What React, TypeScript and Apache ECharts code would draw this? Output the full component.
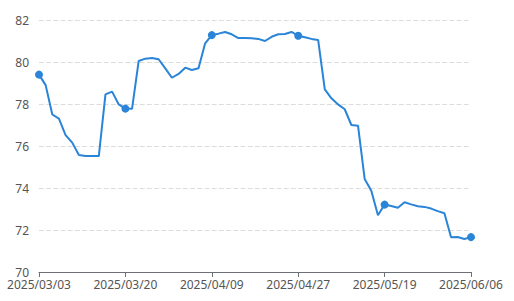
import React, { useEffect, useRef } from "react";
import * as echarts from "echarts";

const dates: string[] = [
  "2025/03/03", "2025/03/04", "2025/03/05", "2025/03/06", "2025/03/07",
  "2025/03/10", "2025/03/11", "2025/03/12", "2025/03/13", "2025/03/14",
  "2025/03/17", "2025/03/18", "2025/03/19", "2025/03/20", "2025/03/21",
  "2025/03/24", "2025/03/25", "2025/03/26", "2025/03/27", "2025/03/28",
  "2025/03/31", "2025/04/01", "2025/04/02", "2025/04/03", "2025/04/07",
  "2025/04/08", "2025/04/09", "2025/04/10", "2025/04/11", "2025/04/14",
  "2025/04/15", "2025/04/16", "2025/04/17", "2025/04/18", "2025/04/21",
  "2025/04/22", "2025/04/23", "2025/04/24", "2025/04/25", "2025/04/27",
  "2025/04/28", "2025/04/29", "2025/04/30", "2025/05/06", "2025/05/07",
  "2025/05/08", "2025/05/09", "2025/05/12", "2025/05/13", "2025/05/14",
  "2025/05/15", "2025/05/16", "2025/05/19", "2025/05/20", "2025/05/21",
  "2025/05/22", "2025/05/23", "2025/05/26", "2025/05/27", "2025/05/28",
  "2025/05/29", "2025/05/30", "2025/06/03", "2025/06/04", "2025/06/05",
  "2025/06/06",
];

const values: number[] = [
  79.4, 78.9, 77.5, 77.3, 76.52, 76.16, 75.57, 75.52, 75.52, 75.52,
  78.46, 78.59, 77.98, 77.78, 77.77, 80.05, 80.16, 80.19, 80.13, 79.7,
  79.25, 79.43, 79.73, 79.62, 79.7, 80.89, 81.28, 81.35, 81.43, 81.32,
  81.14, 81.14, 81.13, 81.1, 81.0, 81.2, 81.32, 81.33, 81.43, 81.25,
  81.18, 81.1, 81.05, 78.7, 78.27, 77.98, 77.75, 77.0, 76.97, 74.43,
  73.87, 72.7, 73.21, 73.14, 73.06, 73.32, 73.22, 73.13, 73.1, 73.02,
  72.9, 72.8, 71.65, 71.67, 71.57, 71.66,
];

const yMin = 70;
const yMax = 82;
const yStep = 2;

export default function App() {
  const ref = useRef<HTMLDivElement>(null);
  useEffect(() => {
    if (!ref.current) return;
    const chart = echarts.init(ref.current, undefined, { renderer: "svg" });
    chart.setOption({
      animation: false,
      textStyle: { fontFamily: "Noto Sans" },
      grid: { left: 39, right: 43, top: 20, bottom: 29, containLabel: false },
      xAxis: {
        type: "category",
        data: dates,
        boundaryGap: false,
        axisLine: { lineStyle: { color: "#6e7079" } },
        axisTick: { interval: 12, length: 5, lineStyle: { color: "#6e7079" } },
        axisLabel: {
          interval: 12,
          color: "#555",
          fontSize: 12,
          fontFamily: "Noto Sans",
          margin: 6,
        },
      },
      yAxis: {
        type: "value",
        min: yMin,
        max: yMax,
        interval: yStep,
        axisLine: { show: false },
        axisTick: { show: false },
        axisLabel: { color: "#555", fontSize: 12, fontFamily: "Noto Sans", margin: 10 },
        splitLine: { lineStyle: { type: "dashed", color: "#dcdcdc", width: 1.2 } },
      },
      series: [
        {
          type: "line",
          data: values,
          symbol: "circle",
          symbolSize: 8,
          showSymbol: true,
          showAllSymbol: "auto",
          lineStyle: { width: 2, color: "#2a84d8" },
          itemStyle: { color: "#2a84d8" },
        },
      ],
    });
    return () => chart.dispose();
  }, []);
  return <div ref={ref} style={{ width: 514, height: 301, position: "absolute", left: 0, top: 0 }} />;
}
